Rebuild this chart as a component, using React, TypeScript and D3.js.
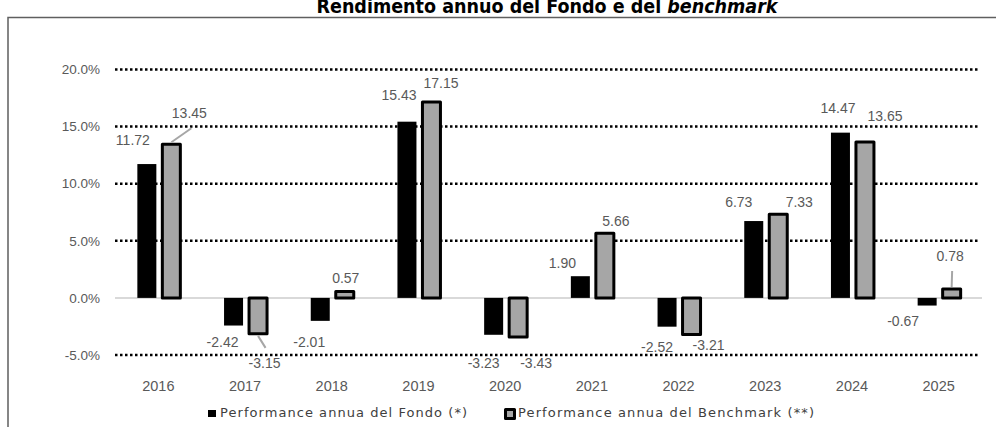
import * as d3 from "d3";

const years = ["2016", "2017", "2018", "2019", "2020", "2021", "2022", "2023", "2024", "2025"];
const fundValues = [11.72, -2.42, -2.01, 15.43, -3.23, 1.9, -2.52, 6.73, 14.47, -0.67];
const benchValues = [13.45, -3.15, 0.57, 17.15, -3.43, 5.66, -3.21, 7.33, 13.65, 0.78];
const yTicks = [-5, 0, 5, 10, 15, 20];
const fundLegend = "Performance annua del Fondo (*)";
const benchLegend = "Performance annua del Benchmark (**)";

// hand-placed label offsets (Excel style), relative to bar end
const fundShift: [number, number][] = [
  [-14, -24], [-11, 16.5], [-11, 21], [-8, -27], [-10, 28],
  [-18, -13], [-10, 20], [-15, -19], [-2.5, -25], [-24, 16],
];
const benchShift: [number, number][] = [
  [18, -31], [6.5, 29], [1, -13.5], [9.5, -18.5], [18, 26],
  [11, -12], [17, 10.5], [21, -12], [20, -26], [-1.5, -33],
];
const benchLeader = [true, true, false, false, false, false, false, false, false, true];

const W = 996;
const H = 427;
const gray = "#595959";

// Excel prints a plain hyphen, not d3's unicode minus
const fmt = (v: number) => v.toFixed(2);
const pct = (v: number) => v.toFixed(1) + "%";

export default function App() {
  const x = d3.scaleBand<string>().domain(years).range([115, 982]).padding(0);
  const y = d3.scaleLinear().domain([-5, 20]).range([355, 69.5]);
  const cx = (i: number) => x(years[i])! + x.bandwidth() / 2;
  const fundX = (i: number) => cx(i) - 11.5;
  const benchX = (i: number) => cx(i) + 13;
  const barW = 19;
  const benchW = 18;

  return (
    <svg
      width={W}
      height={H}
      style={{ position: "absolute", left: 0, top: 0, background: "#fff" }}
      fontFamily="'Liberation Sans', Arial, sans-serif"
    >
      <rect width={W} height={H} fill="#fff" />
      {/* title, partly cut at top like the source */}
      <text
        x={547}
        y={12.5}
        textAnchor="middle"
        fontWeight="bold"
        fontSize={19.5}
        fontFamily="'Liberation Sans Narrow', 'DejaVu Sans Condensed', sans-serif"
        fill="#000"
      >
        Rendimento annuo del Fondo e del <tspan fontStyle="italic">benchmark</tspan>
      </text>
      {/* frame */}
      <path d={`M8,${H} V17.5 H${W}`} fill="none" stroke="#5f5f5f" strokeWidth={1.5} />

      {/* gridlines */}
      {yTicks.filter((t) => t !== 0).map((t) => (
        <line
          key={t}
          x1={115}
          x2={980}
          y1={y(t)}
          y2={y(t)}
          stroke="#000"
          strokeWidth={2.5}
          strokeDasharray="2.5 2.5"
        />
      ))}
      <line x1={115} x2={982} y1={y(0)} y2={y(0)} stroke="#d9d9d9" strokeWidth={2} />

      {/* y tick labels */}
      {yTicks.map((t) => (
        <text key={t} x={100} y={y(t)} dy="0.35em" textAnchor="end" fontSize={13.5} fill={gray}>
          {pct(t)}
        </text>
      ))}

      {/* bars */}
      {fundValues.map((v, i) => (
        <rect
          key={"f" + i}
          x={fundX(i) - barW / 2}
          y={Math.min(y(v), y(0))}
          width={barW}
          height={Math.abs(y(v) - y(0))}
          fill="#000"
        />
      ))}
      {benchValues.map((v, i) => (
        <rect
          key={"b" + i}
          x={benchX(i) - benchW / 2}
          y={Math.min(y(v), y(0))}
          width={benchW}
          height={Math.abs(y(v) - y(0))}
          fill="#a6a6a6"
          stroke="#000"
          strokeWidth={3}
          strokeLinejoin="round"
        />
      ))}

      {/* leader lines */}
      {benchValues.map((v, i) => {
        if (!benchLeader[i]) return null;
        const lx = benchX(i) + benchShift[i][0];
        const ly = y(v) + benchShift[i][1];
        const dir = v >= 0 ? 1 : -1;
        const by = y(v) - dir * 2;
        return (
          <line
            key={"l" + i}
            x1={benchX(i)}
            y1={by}
            x2={lx + (dir > 0 ? 2 : 1)}
            y2={ly + dir * 15}
            stroke="#a6a6a6"
            strokeWidth={2}
          />
        );
      })}

      {/* value labels */}
      {fundValues.map((v, i) => (
        <text
          key={"fl" + i}
          x={fundX(i) + fundShift[i][0]}
          y={y(v) + fundShift[i][1]}
          dy="0.35em"
          textAnchor="middle"
          fontSize={14}
          fill={gray}
        >
          {fmt(v)}
        </text>
      ))}
      {benchValues.map((v, i) => (
        <text
          key={"bl" + i}
          x={benchX(i) + benchShift[i][0]}
          y={y(v) + benchShift[i][1]}
          dy="0.35em"
          textAnchor="middle"
          fontSize={14}
          fill={gray}
        >
          {fmt(v)}
        </text>
      ))}

      {/* x category labels */}
      {years.map((yr) => (
        <text
          key={yr}
          x={x(yr)! + x.bandwidth() / 2}
          y={386}
          dy="0.35em"
          textAnchor="middle"
          fontSize={14.5}
          fill={gray}
        >
          {yr}
        </text>
      ))}

      {/* legend */}
      <g fontFamily="'DejaVu Sans', sans-serif" fontSize={13} fill="#404040">
        <rect x={208} y={410} width={8} height={7} fill="#000" />
        <text x={220} y={417} textLength={247} lengthAdjust="spacing">
          {fundLegend}
        </text>
        <rect
          x={505.5}
          y={409.5}
          width={9}
          height={9}
          fill="#a6a6a6"
          stroke="#000"
          strokeWidth={3}
          strokeLinejoin="round"
        />
        <text x={518} y={417} textLength={296} lengthAdjust="spacing">
          {benchLegend}
        </text>
      </g>
    </svg>
  );
}
